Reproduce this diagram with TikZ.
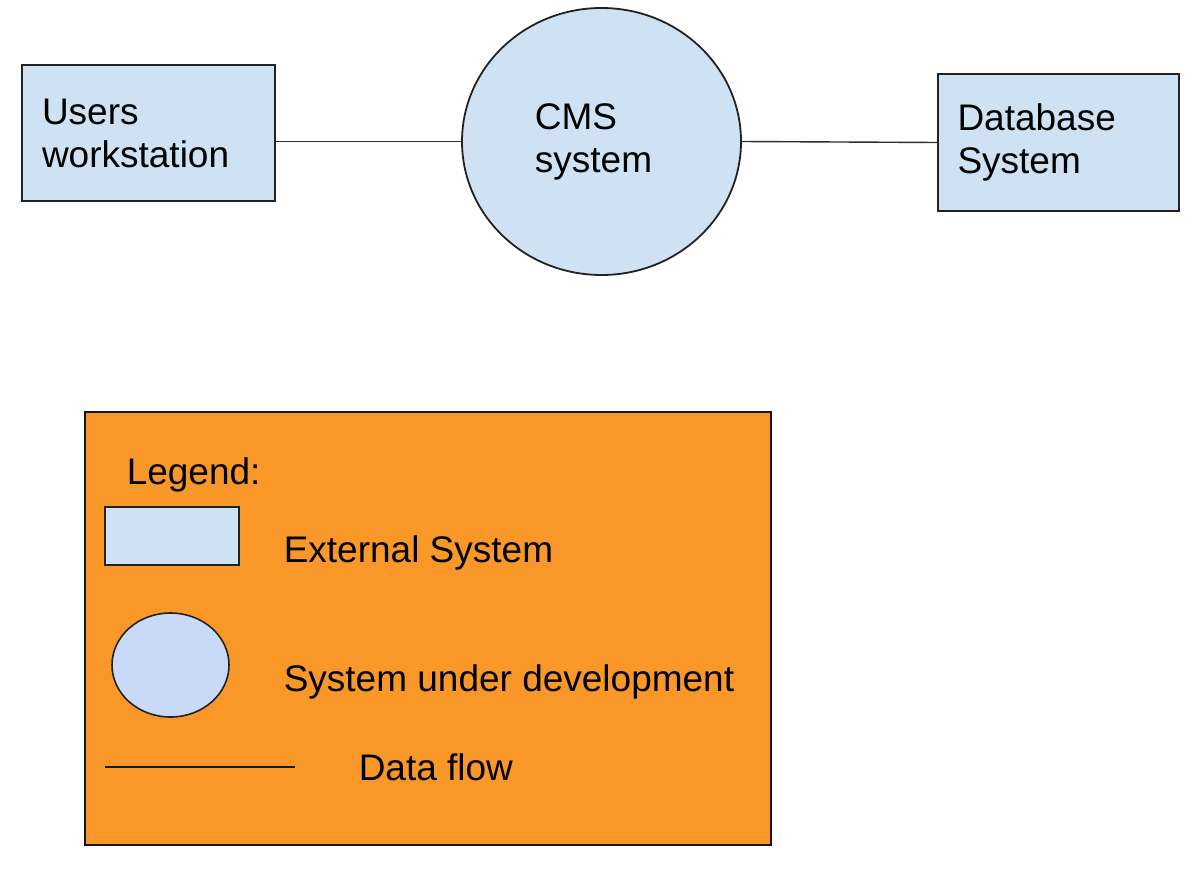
\documentclass[tikz,border=0pt]{standalone}
\usepackage{fontspec}
\setmainfont{Liberation Sans}
\usetikzlibrary{shapes.geometric}
\definecolor{boxblue}{RGB}{207,226,243}
\definecolor{circblue}{RGB}{201,218,248}
\definecolor{legorange}{RGB}{249,152,40}
\tikzset{every picture/.style={line width=0.75pt}}

\begin{document}
\begin{tikzpicture}[x=0.5pt,y=0.5pt,yscale=-1,xscale=1,
	txt/.style={font=\fontsize{18.5}{21.5}\selectfont},
	label/.style={txt, anchor=base west, inner sep=0pt},
	extbox/.style={draw={rgb, 255:red, 34; green, 34; blue, 34}, fill=boxblue, line width=0.9pt, txt, align=left, inner ysep=0pt, inner xsep=10pt},
	cmscircle/.style={ellipse, draw={rgb, 255:red, 34; green, 34; blue, 34}, fill=boxblue, line width=0.9pt, txt, align=left, inner sep=0pt},
	flow/.style={draw={rgb, 255:red, 45; green, 45; blue, 45}, line width=0.7pt}]
	\useasboundingbox (0,0) rectangle (1202,872);
	
	%Shape: Rectangle [users]
	\node [extbox, text width=106.5pt, minimum width=126.5pt, minimum height=68pt] (users) at (148.5,133) {Users\\workstation};
	%Shape: Ellipse [cms]
	\node [cmscircle, minimum width=139.5pt, minimum height=133.5pt] (cms) at (601.5,141.5) {CMS\\system\hspace*{8pt}};
	%Shape: Rectangle [db]
	\node [extbox, text width=101pt, minimum width=120.5pt, minimum height=68.5pt, inner xsep=9.75pt] (db) at (1058.5,142.5) {Database\\System};
	%Straight Lines
	\draw [flow] (users.east |- cms.west) -- (cms.west);
	%Straight Lines
	\draw [flow] (cms.east) -- (db.west);
	
	%Shape: Rectangle [legend]
	\node [draw={rgb, 255:red, 20; green, 20; blue, 20}, fill=legorange, line width=0.9pt, minimum width=343pt, minimum height=216.5pt, inner sep=0pt] (legend) at (428,628.5) {};
	%Shape: Rectangle [legend sample]
	\node [draw={rgb, 255:red, 34; green, 34; blue, 34}, fill=boxblue, line width=0.9pt, minimum width=67pt, minimum height=29pt, inner sep=0pt] (extsample) at (172,536) {};
	%Shape: Ellipse [legend sample]
	\node [ellipse, draw={rgb, 255:red, 34; green, 34; blue, 34}, fill=circblue, line width=0.8pt, minimum width=58.5pt, minimum height=52pt, inner sep=0pt] (cmssample) at (170.5,665) {};
	%Straight Lines [legend sample]
	\coordinate (flowa) at (105,767);
	\coordinate (flowb) at (295,767);
	\draw [flow, line width=0.9pt, draw=black!90] (flowa) -- (flowb);
	
	% Text Node
	\node [label] (legtitle) at (126,484) {Legend:};
	% Text Node
	\node [label] (exttext) at (283,562) {External System};
	% Text Node
	\node [label] (cmstext) at (283,691) {System under development};
	% Text Node
	\node [label] (flowtext) at (358,780) {Data flow};
	
\end{tikzpicture}
\end{document}
